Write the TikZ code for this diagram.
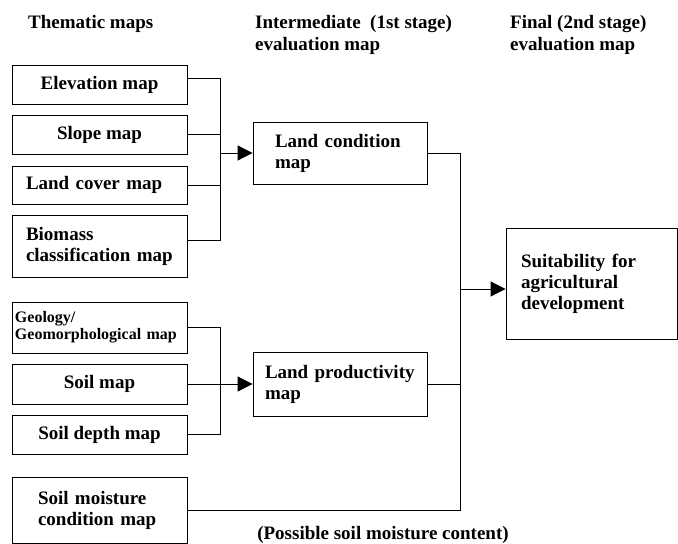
\documentclass[tikz,border=0pt]{standalone}
\usepackage{fontspec}
\setmainfont{Liberation Serif}
\usetikzlibrary{arrows.meta}

\begin{document}
\begin{tikzpicture}[x=1pt,y=-1pt,
    box/.style={draw,line width=0.9pt,minimum width=175pt,inner sep=0pt,align=center,
      font=\bfseries\fontsize{19}{21}\selectfont},
    hdr/.style={anchor=north west,inner sep=0pt,align=left,font=\bfseries\fontsize{19}{22}\selectfont},
    wire/.style={line width=1pt},
    >={Triangle[length=15pt,width=15pt]}]
  \useasboundingbox (0,0) rectangle (678,544);
  % column headings
  \node[hdr] (thematic) at (28,15) {Thematic maps};
  \node[hdr] (inter) at (255,15) {Intermediate \ (1st stage)\\evaluation map};
  \node[hdr] (final) at (510,15) {Final (2nd stage)\\evaluation map};
  % thematic maps
  \node[box,minimum height=39pt] (elev) at (99.5,84.5) {Elevation map};
  \node[box,minimum height=39pt] (slope) at (99.5,134.5) {Slope map};
  \node[box,minimum height=38pt,align=left,inner xsep=14pt,text width=147pt] (cover) at (99.5,185) {Land cover map};
  \node[box,minimum height=62pt,align=left,inner xsep=14pt,text width=147pt] (biomass) at (99.5,246) {Biomass\\classification map};
  \node[box,minimum height=51pt,align=left,inner xsep=3pt,text width=169pt,
    font=\bfseries\fontsize{16}{17}\selectfont] (geology) at (99.5,327.5) {Geology/\\Geomorphological map};
  \node[box,minimum height=40pt] (soil) at (99.5,384) {Soil map};
  \node[box,minimum height=39pt] (depth) at (99.5,434.5) {Soil depth map};
  \node[box,minimum height=66pt,align=left,inner xsep=26pt,text width=123pt] (moist) at (99.5,510) {Soil moisture\\condition map};
  % evaluation maps
  \node[box,minimum width=174pt,minimum height=62pt,align=left,inner xsep=22pt,text width=130pt] (cond) at (340,153) {Land condition\\map};
  \node[box,minimum width=174pt,minimum height=64pt,align=left,inner xsep=12pt,text width=150pt] (prod) at (340,384) {Land productivity\\map};
  \node[box,minimum width=171pt,minimum height=111pt,align=left,inner xsep=15pt,text width=141pt] (suit) at (591.5,283.5) {Suitability for\\agricultural\\development};
  \node[font=\bfseries\fontsize{19}{21}\selectfont] (note) at (383,535) {(Possible soil moisture content)};
  % connectors
  \coordinate (join1) at (220,153);
  \coordinate (join2) at (220,384);
  \coordinate (join3) at (460,289);
  \draw[wire] ([yshift=6.5pt]elev.east) -| (join1);
  \draw[wire] (slope.east) -| (join1);
  \draw[wire] (cover.east) -| (join1);
  \draw[wire] ([yshift=6pt]biomass.east) -| (join1);
  \draw[wire,->] (join1) -- (cond.west);
  \draw[wire] (geology.east) -| (join2);
  \draw[wire] (soil.east) -| (join2);
  \draw[wire] (depth.east) -| (join2);
  \draw[wire,->] (join2) -- (prod.west);
  \draw[wire] (cond.east) -| (join3);
  \draw[wire] (prod.east) -| (join3);
  \draw[wire] (moist.east) -| (join3);
  \draw[wire,->] (join3) -- (join3 -| suit.west);
\end{tikzpicture}
\end{document}
